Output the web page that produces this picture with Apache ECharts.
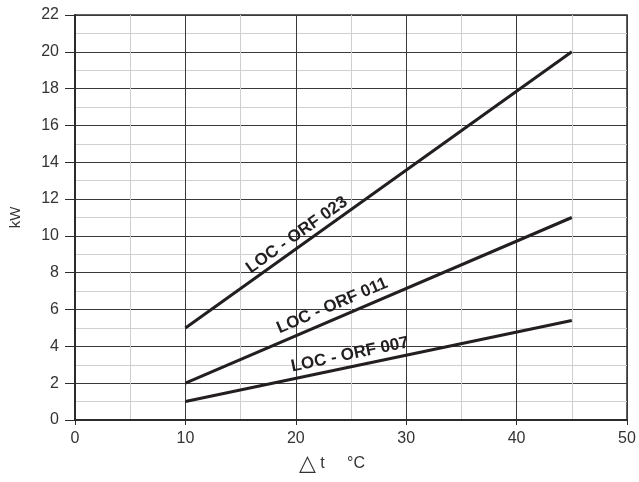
<!DOCTYPE html>
<html><head><meta charset="utf-8">
<script src="https://cdn.jsdelivr.net/npm/echarts@6/dist/echarts.min.js"></script>
<style>html,body{margin:0;padding:0;background:#fff}#c{width:639px;height:482px}</style>
</head><body><div id="c"></div>
<script>
const seriesNames = ['LOC - ORF 023', 'LOC - ORF 011', 'LOC - ORF 007'];
const dtValues = [10, 45];
const kw023 = [5, 20];
const kw011 = [2, 11];
const kw007 = [1, 5.4];
const labelPos = [[20.1, 10.05], [23.3, 6.2], [24.9, 3.55]];
const labelAngle = [35.5, 23.2, 11.8];
const xTicks = [0, 10, 20, 30, 40, 50];
const yTicks = [0, 2, 4, 6, 8, 10, 12, 14, 16, 18, 20, 22];

const chart = echarts.init(document.getElementById('c'));
const allData = [kw023, kw011, kw007];
const font = '"Liberation Sans", Arial, sans-serif';
chart.setOption({
  animation: false,
  grid: { left: 73, right: 12, top: 15, bottom: 62, show: true, borderColor: '#2b2b2b', borderWidth: 1.5, backgroundColor: 'transparent' },
  xAxis: {
    type: 'value', min: xTicks[0], max: xTicks[xTicks.length - 1], interval: 10,
    axisLine: { show: true, lineStyle: { color: '#2b2b2b', width: 2 } },
    axisTick: { show: true, length: 5, lineStyle: { color: '#2b2b2b' } },
    axisLabel: { color: '#333', fontSize: 16, fontFamily: font, margin: 11 },
    splitLine: { show: true, lineStyle: { color: '#3a3a3a', width: 1 } },
    minorTick: { show: false, splitNumber: 2 },
    minorSplitLine: { show: true, lineStyle: { color: '#cfcfcf', width: 1 } }
  },
  yAxis: {
    type: 'value', min: yTicks[0], max: yTicks[yTicks.length - 1], interval: 2,
    name: 'kW', nameLocation: 'middle', nameGap: 52, nameRotate: 90,
    nameTextStyle: { color: '#333', fontSize: 15, fontFamily: font },
    axisLine: { show: true, lineStyle: { color: '#2b2b2b', width: 2 } },
    axisTick: { show: true, length: 10, lineStyle: { color: '#2b2b2b' } },
    axisLabel: { color: '#333', fontSize: 16, fontFamily: font, margin: 16 },
    splitLine: { show: true, lineStyle: { color: '#3a3a3a', width: 1 } },
    minorTick: { show: false, splitNumber: 2 },
    minorSplitLine: { show: true, lineStyle: { color: '#cfcfcf', width: 1 } }
  },
  series: seriesNames.map((n, i) => ({
    name: n, type: 'line', showSymbol: false, symbol: 'none',
    data: dtValues.map((x, j) => [x, allData[i][j]]),
    lineStyle: { color: '#231f20', width: 3 },
    markPoint: {
      symbol: 'circle', symbolSize: 0,
      data: [{ coord: labelPos[i] }],
      label: { show: true, position: 'inside', formatter: n, rotate: labelAngle[i], color: '#231f20', fontWeight: 'bold', fontSize: 17, fontFamily: font }
    }
  })),
  graphic: [{
    type: 'text', left: 299, top: 453,
    style: { text: '{a|△}{b| t     °C}', rich: { a: { fontSize: 22, fill: '#333', fontFamily: '"DejaVu Sans", sans-serif' }, b: { fontSize: 16, fill: '#333', fontFamily: font } } }
  }]
});
</script></body></html>
